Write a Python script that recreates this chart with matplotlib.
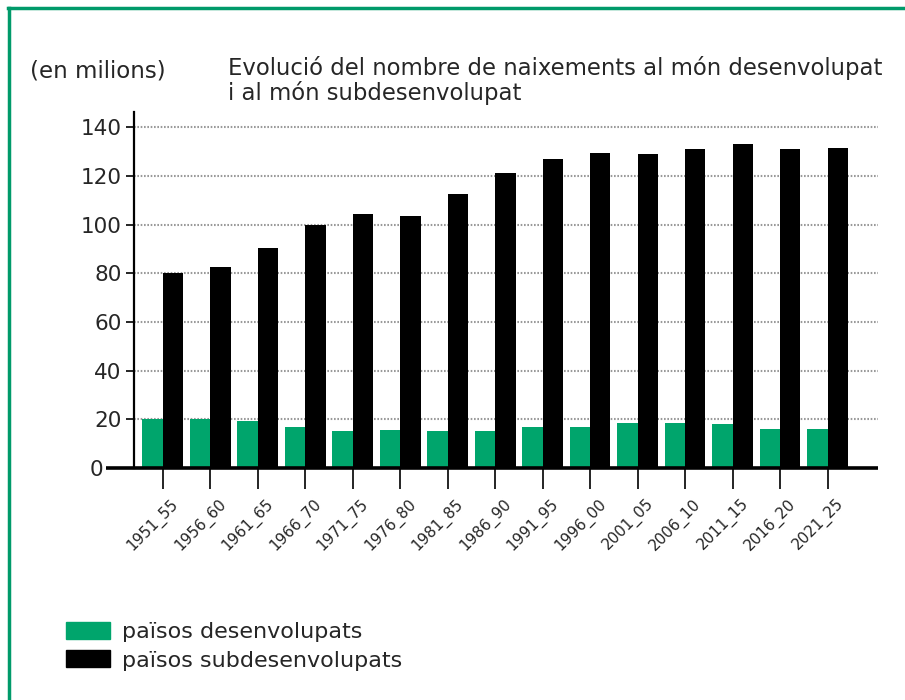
import matplotlib
matplotlib.use('Agg')
import matplotlib.pyplot as plt
import matplotlib.transforms as mtransforms
from matplotlib.patches import Patch
from matplotlib.lines import Line2D
import numpy as np

# five-year periods
periods = ['1951_55', '1956_60', '1961_65', '1966_70', '1971_75', '1976_80', '1981_85',
           '1986_90', '1991_95', '1996_00', '2001_05', '2006_10', '2011_15', '2016_20', '2021_25']
# births in millions
developed = [20, 20, 19.5, 17, 15, 15.5, 15, 15, 17, 17, 18.5, 18.5, 18, 16, 16]
underdeveloped = [80, 82.5, 90.5, 100, 104.5, 103.5, 112.5, 121, 127, 129.5, 129, 131, 133, 131, 131.5]
yticks = [0, 20, 40, 60, 80, 100, 120, 140]

GREEN = '#00a56c'
TEXT = '#262626'

fig = plt.figure(figsize=(9.05, 7), dpi=100)
ax = fig.add_axes([0.148, 0.3314, 0.822, 0.5086])

x = np.arange(len(periods))
w = 0.43
ax.bar(x - w / 2, developed, width=w, color=GREEN, zorder=3)
ax.bar(x + w / 2, underdeveloped, width=w, color='black', zorder=3)

ax.set_xlim(-0.605, 15.06)
ax.set_ylim(0, 146.2)

# axes styling
for s in ['top', 'right', 'bottom']:
    ax.spines[s].set_visible(False)
ax.spines['left'].set_linewidth(1.6)
ax.plot([-0.038, 1.0], [0, 0], transform=ax.transAxes, color='black', lw=2.6,
        clip_on=False, zorder=5, solid_capstyle='butt')

ax.set_yticks(yticks)
ax.set_yticklabels([str(v) for v in yticks], fontsize=15.5, color=TEXT)
ax.tick_params(axis='y', length=6, width=1.2, pad=3)
# the zero label sits left of the extended baseline
zero_shift = mtransforms.ScaledTranslation(-18 / 100, 0, fig.dpi_scale_trans)
ylbls = ax.get_yticklabels()
ylbls[0].set_transform(ylbls[0].get_transform() + zero_shift)
for v in yticks[1:]:
    ax.axhline(v, color='#9a9a9a', lw=1.5, ls=(0, (0.8, 0.8)), zorder=1)

ax.set_xticks(x)
ax.set_xticklabels(periods, rotation=45, ha='right', rotation_mode='anchor',
                   fontsize=11, color=TEXT)
ax.tick_params(axis='x', length=15, width=1.2, pad=5, direction='out')
offset = mtransforms.ScaledTranslation(8 / 100, 0, fig.dpi_scale_trans)
for lbl in ax.get_xticklabels():
    lbl.set_transform(lbl.get_transform() + offset)

# titles
fig.text(30 / 905, 1 - 71 / 700, '(en milions)', fontsize=16.5, color=TEXT, va='center')
fig.text(228 / 905, 1 - 68 / 700, 'Evolució del nombre de naixements al món desenvolupat',
         fontsize=16.4, color=TEXT, va='center')
fig.text(228 / 905, 1 - 93 / 700, 'i al món subdesenvolupat', fontsize=16.4, color=TEXT, va='center')

# legend
handles = [Patch(color=GREEN), Patch(color='black')]
fig.legend(handles, ['països desenvolupats', 'països subdesenvolupats'],
           loc='upper left', bbox_to_anchor=(66 / 905, 1 - 622 / 700),
           frameon=False, fontsize=16, handlelength=1.98, handleheight=0.8,
           handletextpad=0.54, labelspacing=0.37, borderpad=0, borderaxespad=0,
           labelcolor=TEXT)

# green frame (top and left edges)
fig.add_artist(Line2D([8 / 905, 1], [1 - 8 / 700, 1 - 8 / 700], transform=fig.transFigure,
                      color='#009a6a', lw=2.5))
fig.add_artist(Line2D([9 / 905, 9 / 905], [0, 1 - 8 / 700], transform=fig.transFigure,
                      color='#009a6a', lw=2.5))

fig.savefig('out.png', dpi=100)
